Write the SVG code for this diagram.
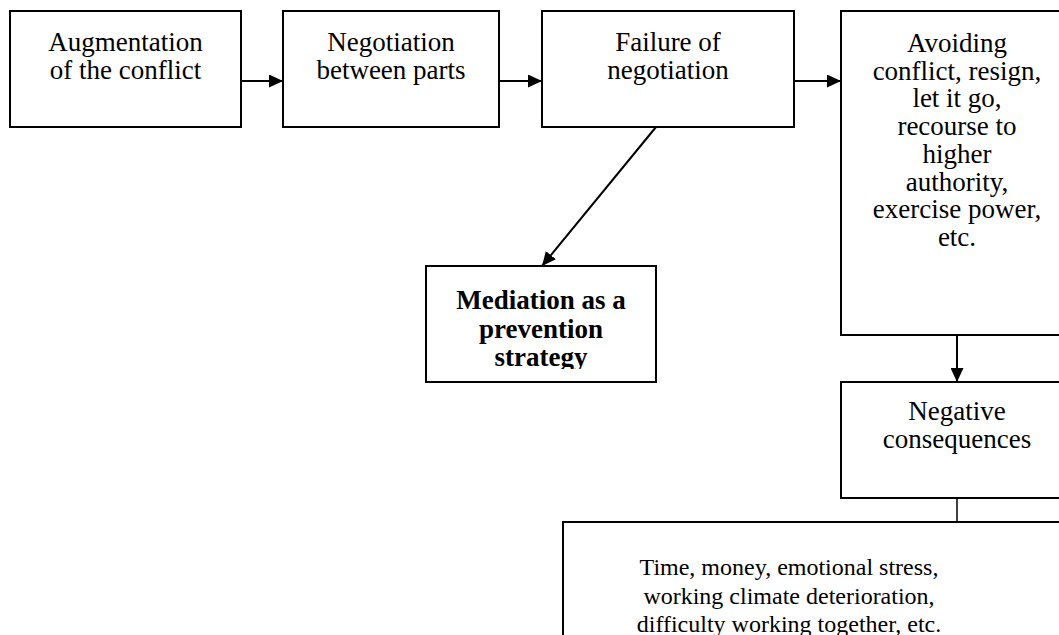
<svg xmlns="http://www.w3.org/2000/svg" width="1059" height="635" viewBox="0 0 1059 635">
  <style>
    .box { fill: #ffffff; stroke: #000000; stroke-width: 2; }
    .lbl { font-family: "Liberation Serif", "Times New Roman", serif; font-size: 27px; fill: #000000; text-anchor: middle; }
    .small { font-size: 24px; }
    .bold { font-weight: bold; }
    .wire { stroke: #000000; stroke-width: 2; fill: none; }
    .thin { stroke: #000000; stroke-width: 1.5; fill: none; }
  </style>
  <defs>
    <marker id="head" markerUnits="userSpaceOnUse" markerWidth="15" markerHeight="13" refX="14" refY="6.5" orient="auto">
      <path d="M0,0 L14,6.5 L0,13 z" fill="#000000"/>
    </marker>
    <!-- text area of the mediation box: overflowing lines are cut -->
    <clipPath id="clipMediation">
      <rect x="427" y="267" width="228" height="102"/>
    </clipPath>
  </defs>

  <rect width="1059" height="635" fill="#ffffff"/>

  <g id="connectors">
    <line class="wire" x1="242" y1="81" x2="283" y2="81" marker-end="url(#head)"/>
    <line class="wire" x1="500" y1="81" x2="542" y2="81" marker-end="url(#head)"/>
    <line class="wire" x1="795" y1="81" x2="841" y2="81" marker-end="url(#head)"/>
    <line class="wire" x1="656" y1="127" x2="542" y2="266" marker-end="url(#head)"/>
    <line class="wire" x1="957" y1="336" x2="957" y2="382" marker-end="url(#head)"/>
    <line class="thin" x1="957" y1="498" x2="957" y2="522"/>
  </g>

  <g id="augmentation">
    <rect class="box" x="10" y="11" width="231" height="116"/>
    <text class="lbl" x="125.5" y="51">Augmentation</text>
    <text class="lbl" x="125.5" y="79">of the conflict</text>
  </g>

  <g id="negotiation">
    <rect class="box" x="283" y="11" width="216" height="116"/>
    <text class="lbl" x="391" y="51">Negotiation</text>
    <text class="lbl" x="391" y="79">between parts</text>
  </g>

  <g id="failure">
    <rect class="box" x="542" y="11" width="252" height="116"/>
    <text class="lbl" x="668" y="51">Failure of</text>
    <text class="lbl" x="668" y="79">negotiation</text>
  </g>

  <g id="avoiding">
    <rect class="box" x="841" y="11" width="232" height="324"/>
    <text class="lbl" x="957" y="52">Avoiding</text>
    <text class="lbl" x="957" y="79.7">conflict, resign,</text>
    <text class="lbl" x="957" y="107.4">let it go,</text>
    <text class="lbl" x="957" y="135.1">recourse to</text>
    <text class="lbl" x="957" y="162.8">higher</text>
    <text class="lbl" x="957" y="190.5">authority,</text>
    <text class="lbl" x="957" y="218.2">exercise power,</text>
    <text class="lbl" x="957" y="245.9">etc.</text>
  </g>

  <g id="mediation">
    <rect class="box" x="426" y="266" width="230" height="116"/>
    <g clip-path="url(#clipMediation)">
      <text class="lbl bold" x="541" y="309">Mediation as a</text>
      <text class="lbl bold" x="541" y="337.5">prevention</text>
      <text class="lbl bold" x="541" y="366">strategy</text>
    </g>
  </g>

  <g id="negative">
    <rect class="box" x="841" y="382" width="232" height="116"/>
    <text class="lbl" x="957" y="420">Negative</text>
    <text class="lbl" x="957" y="447.7">consequences</text>
  </g>

  <g id="costs">
    <rect class="box" x="563" y="522" width="510" height="150"/>
    <text class="lbl small" x="789" y="575">Time, money, emotional stress,</text>
    <text class="lbl small" x="789" y="604">working climate deterioration,</text>
    <text class="lbl small" x="789" y="632">difficulty working together, etc.</text>
  </g>
</svg>
